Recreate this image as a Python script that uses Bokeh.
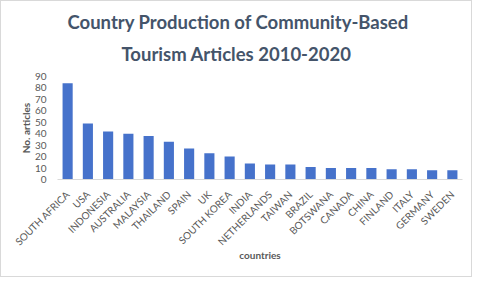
import math
from bokeh.plotting import figure
from bokeh.models import Title, ColumnDataSource
from bokeh.embed import file_html
from bokeh.resources import INLINE

countries = ["SOUTH AFRICA", "USA", "INDONESIA", "AUSTRALIA", "MALAYSIA", "THAILAND",
             "SPAIN", "UK", "SOUTH KOREA", "INDIA", "NETHERLANDS", "TAIWAN", "BRAZIL",
             "BOTSWANA", "CANADA", "CHINA", "FINLAND", "ITALY", "GERMANY", "SWEDEN"]
articles = [84, 49, 42, 40, 38, 33, 27, 23, 20, 14, 13, 13, 11, 10, 10, 10, 9, 9, 8, 8]
y_ticks = [0, 10, 20, 30, 40, 50, 60, 70, 80, 90]
title_lines = ["Country Production of Community-Based", "Tourism Articles 2010-2020"]

FONT = "Lato"
GREY = "#595959"

src = ColumnDataSource(dict(x=countries, y=articles))

p = figure(x_range=countries, y_range=(0, 90), width=472, height=277,
           output_backend="svg", toolbar_location=None,
           min_border_left=56, min_border_right=11, min_border_bottom=99, min_border_top=75)

p.vbar(x="x", top="y", width=0.5, source=src, fill_color="#4672cb", line_color=None)

p.add_layout(Title(text=title_lines[1], align="left", offset=64, text_font=FONT,
                   text_font_size="18.5px", text_font_style="bold", text_color="#44546A",
                   standoff=23), "above")
p.add_layout(Title(text=title_lines[0], align="left", offset=10, text_font=FONT,
                   text_font_size="18.5px", text_font_style="bold", text_color="#44546A",
                   standoff=-6), "above")

p.xgrid.visible = False
p.ygrid.visible = False
p.outline_line_color = None

p.yaxis.ticker = y_ticks
p.yaxis.axis_line_color = None
p.yaxis.major_tick_line_color = None
p.yaxis.minor_tick_line_color = None
p.yaxis.major_label_standoff = 5
p.yaxis.major_label_text_font = FONT
p.yaxis.major_label_text_font_size = "10px"
p.yaxis.major_label_text_color = GREY
p.yaxis.axis_label = "No. articles"
p.yaxis.axis_label_text_font = FONT
p.yaxis.axis_label_text_font_size = "10px"
p.yaxis.axis_label_text_font_style = "bold"
p.yaxis.axis_label_text_color = GREY
p.yaxis.axis_label_standoff = 0

p.xaxis.axis_line_color = "#d9d9d9"
p.xaxis.major_tick_line_color = None
p.xaxis.minor_tick_line_color = None
p.xaxis.major_label_orientation = math.pi / 4
p.xaxis.major_label_standoff = 7
p.xaxis.major_label_text_font = FONT
p.xaxis.major_label_text_font_size = "10px"
p.xaxis.major_label_text_color = GREY
p.xaxis.axis_label = "countries"
p.xaxis.axis_label_text_font = FONT
p.xaxis.axis_label_text_font_size = "10px"
p.xaxis.axis_label_text_font_style = "bold"
p.xaxis.axis_label_text_color = GREY
p.xaxis.axis_label_standoff = -6

p.styles = {"border": "1px solid #d9d9d9"}

open("out.html", "w").write(file_html(p, INLINE))
